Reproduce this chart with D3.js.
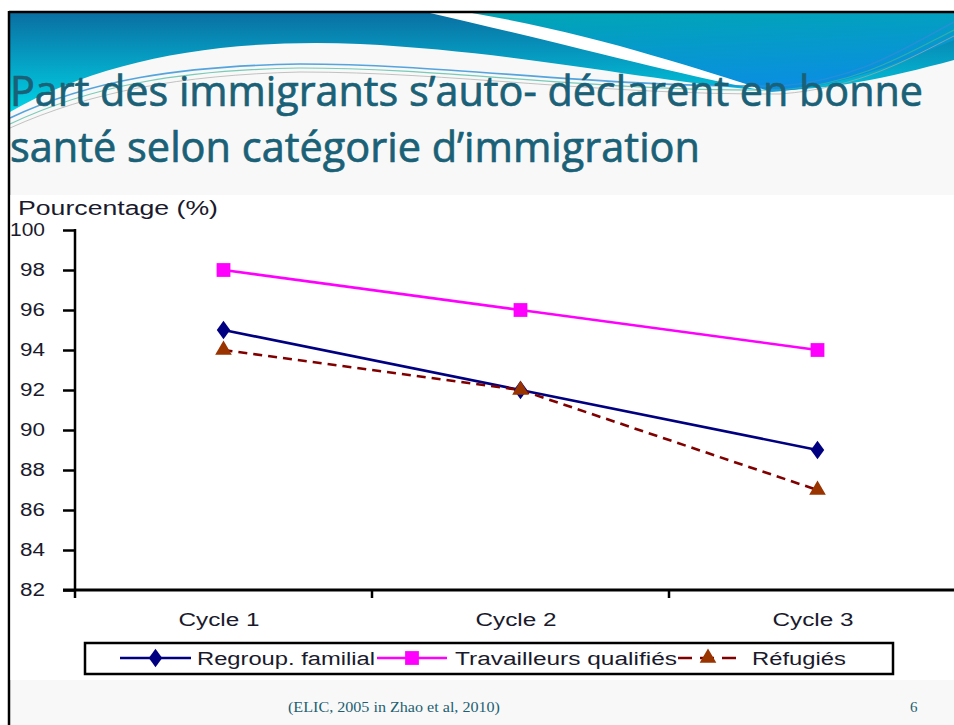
<!DOCTYPE html>
<html><head><meta charset="utf-8">
<script src="https://cdn.jsdelivr.net/npm/d3@7/dist/d3.min.js"></script>
<style>html,body{margin:0;padding:0;background:#fff;overflow:hidden}</style>
</head><body>
<script>
const categories = ["Cycle 1", "Cycle 2", "Cycle 3"];
const seriesNames = ["Regroup. familial", "Travailleurs qualifiés", "Réfugiés"];
const regroupFamilial = [95, 92, 89];
const travailleursQualifies = [98, 96, 94];
const refugies = [94, 92, 87];
const yTicks = [82, 84, 86, 88, 90, 92, 94, 96, 98, 100];
const titleLines = ["Part des immigrants s\u2019auto- déclarent en bonne", "santé selon catégorie d\u2019immigration"];
const yLabel = "Pourcentage (%)";
const source = "(ELIC, 2005 in Zhao et al, 2010)";
const pageNum = "6";

const W = 954, H = 725;
const ARIAL = "Arial, 'Liberation Sans', sans-serif";
const TXT = "#1a1a2c";
const svg = d3.select("body").append("svg").attr("width", W).attr("height", H);
const defs = svg.append("defs");
const g1 = defs.append("linearGradient").attr("id","gLeft").attr("x1",0).attr("y1",0).attr("x2",0).attr("y2",1);
g1.append("stop").attr("offset","0%").attr("stop-color","#0a6fa3");
g1.append("stop").attr("offset","100%").attr("stop-color","#00d4e6");
const g2 = defs.append("linearGradient").attr("id","gRight").attr("x1",0).attr("y1",0).attr("x2",0.3).attr("y2",1);
g2.append("stop").attr("offset","0%").attr("stop-color","#00a6b4");
g2.append("stop").attr("offset","100%").attr("stop-color","#0a8fe0");

// slide background
svg.append("rect").attr("x",9).attr("y",12).attr("width",W).attr("height",H).attr("fill","#f8f8f8");
// header decoration
svg.append("path").attr("d","M10,13 H954 V60 C 880,80 820,92 760,90 C 640,80 520,52 360,44 C 220,38 100,60 10,112 Z").attr("fill","url(#gLeft)");
svg.append("path").attr("d","M470,13 H954 V40 C 900,62 840,88 770,92 C 700,70 600,35 470,13 Z").attr("fill","url(#gRight)");
svg.append("path").attr("d","M430,13 L472,13 C 600,35 700,70 772,92 C 690,78 570,45 430,13 Z").attr("fill","#ffffff");
svg.append("path").attr("d","M10,118 C 90,80 180,66 300,64 C 450,64 600,88 780,86 C 860,80 910,45 954,22").attr("fill","none").attr("stroke","#2a8fd6").attr("stroke-width",1.6).attr("opacity",0.8);
svg.append("path").attr("d","M10,124 C 90,86 180,70 300,68 C 450,68 600,92 780,90 C 860,84 910,52 954,30").attr("fill","none").attr("stroke","#41b89a").attr("stroke-width",1.2).attr("opacity",0.7);
svg.append("path").attr("d","M10,128 C 90,92 180,75 300,72 C 450,72 600,95 780,94 C 860,88 910,58 954,36").attr("fill","none").attr("stroke","#aaaaaa").attr("stroke-width",1).attr("opacity",0.7);

// borders
svg.append("line").attr("x1",9).attr("x2",W).attr("y1",12).attr("y2",12).attr("stroke","#000").attr("stroke-width",2.5);
svg.append("line").attr("x1",9).attr("x2",9).attr("y1",11).attr("y2",H).attr("stroke","#000").attr("stroke-width",2.5);

// title
const title = svg.append("g").attr("font-family","'Open Sans', sans-serif").attr("font-size",42).attr("font-weight",500)
  .attr("fill","#1a6177").attr("stroke","#1a6177").attr("stroke-width",0.7);
title.append("text").attr("x",10).attr("y",106).attr("textLength",913).attr("lengthAdjust","spacingAndGlyphs").text(titleLines[0]);
title.append("text").attr("x",10).attr("y",162).attr("textLength",690).attr("lengthAdjust","spacingAndGlyphs").text(titleLines[1]);

// chart area
svg.append("rect").attr("x",10.5).attr("y",195).attr("width",W-10).attr("height",485).attr("fill","#ffffff");

const x = d3.scaleBand().domain(categories).range([75, 966]);
const y = d3.scaleLinear().domain([82, 100]).range([590, 230]);

const yAxis = svg.append("g").attr("transform","translate(75,0)")
  .call(d3.axisLeft(y).tickValues(yTicks).tickSize(12).tickPadding(30).tickFormat(d3.format("d")));
yAxis.select(".domain").attr("stroke","#000").attr("stroke-width",2.5).attr("d","M0,229V591");
yAxis.selectAll(".tick line").attr("stroke","#000").attr("stroke-width",2.5);
yAxis.selectAll("text").attr("font-family",ARIAL).attr("font-size",18).attr("fill",TXT)
  .attr("text-anchor","start").attr("x", d => d >= 100 ? -65 : -55)
  .attr("textLength", d => d >= 100 ? 35 : 25).attr("lengthAdjust","spacingAndGlyphs");

const xAxis = svg.append("g").attr("transform","translate(0,590)")
  .call(d3.axisBottom(x).tickSize(0).tickPadding(22));
xAxis.select(".domain").attr("stroke","#000").attr("stroke-width",3).attr("d","M63,0H966");
xAxis.selectAll("text").attr("font-family",ARIAL).attr("font-size",18).attr("fill",TXT).attr("dy","0.75em")
  .attr("text-anchor","start").attr("x",-45).attr("textLength",81).attr("lengthAdjust","spacingAndGlyphs");
const bounds = categories.slice(1).map(c => x(c));
xAxis.selectAll(".btick").data(bounds).enter().append("line").attr("class","btick")
  .attr("x1",d=>d).attr("x2",d=>d).attr("y1",0).attr("y2",8).attr("stroke","#000").attr("stroke-width",2.5);
xAxis.append("line").attr("x1",x.range()[0]).attr("x2",x.range()[0]).attr("y1",0).attr("y2",8).attr("stroke","#000").attr("stroke-width",2.5);

svg.append("text").attr("x",18).attr("y",215).attr("font-family",ARIAL).attr("font-size",20).attr("fill",TXT)
  .attr("textLength",200).attr("lengthAdjust","spacingAndGlyphs").text(yLabel);

const series = [
  {name: seriesNames[0], values: regroupFamilial, color: "#000080", mcolor:"#000080", dash: null, sym: d3.symbolDiamond, size: 100, tl: 178},
  {name: seriesNames[1], values: travailleursQualifies, color: "#ff00ff", mcolor:"#ff00ff", dash: null, sym: d3.symbolSquare, size: 190, tl: 222},
  {name: seriesNames[2], values: refugies, color: "#800000", mcolor:"#993300", dash: "9,6", sym: d3.symbolTriangle, size: 120, tl: 94}
];
const cx = c => x(c) + x.bandwidth()/2;
const line = d3.line().x((d,i) => cx(categories[i])).y(d => y(d));

series.forEach(s => {
  svg.append("path").attr("d", line(s.values)).attr("fill","none").attr("stroke",s.color)
    .attr("stroke-width",2.6).attr("stroke-dasharray",s.dash);
});
series.forEach(s => {
  svg.append("g").selectAll("path").data(s.values).enter().append("path")
    .attr("d", d3.symbol().type(s.sym).size(s.size))
    .attr("transform",(d,i)=>`translate(${cx(categories[i])},${y(d)})` + (s.sym===d3.symbolDiamond ? " scale(1.25,1)" : ""))
    .attr("fill", s.mcolor);
});

// legend
const lg = svg.append("g");
lg.append("rect").attr("x",85).attr("y",643).attr("width",808).attr("height",31).attr("fill","#fff").attr("stroke","#000").attr("stroke-width",2.5);
const legendPos = [{x1:120,x2:191,tx:197},{x1:377,x2:447,tx:455},{x1:678,x2:738,tx:752}];
series.forEach((s,i) => {
  const p = legendPos[i], ly = 658;
  lg.append("line").attr("x1",p.x1).attr("x2",p.x2).attr("y1",ly).attr("y2",ly).attr("stroke",s.color).attr("stroke-width",2.6).attr("stroke-dasharray",s.dash ? "14,8" : null);
  lg.append("path").attr("d", d3.symbol().type(s.sym).size(s.size))
    .attr("transform",`translate(${(p.x1+p.x2)/2},${ly})` + (s.sym===d3.symbolDiamond ? " scale(1.25,1)" : "")).attr("fill",s.mcolor);
  lg.append("text").attr("x",p.tx).attr("y",ly+6.5).attr("font-family",ARIAL).attr("font-size",18).attr("fill",TXT)
    .attr("textLength",s.tl).attr("lengthAdjust","spacingAndGlyphs").text(s.name);
});

// footer
svg.append("text").attr("x",288).attr("y",712).attr("font-family","'Liberation Serif', 'DejaVu Serif', serif").attr("font-size",15).attr("fill","#1e5f72")
  .attr("textLength",212).attr("lengthAdjust","spacingAndGlyphs").text(source);
svg.append("text").attr("x",910).attr("y",712).attr("font-family","'Liberation Serif', 'DejaVu Serif', serif").attr("font-size",15).attr("fill","#1e5f72").text(pageNum);
</script>
</body></html>
